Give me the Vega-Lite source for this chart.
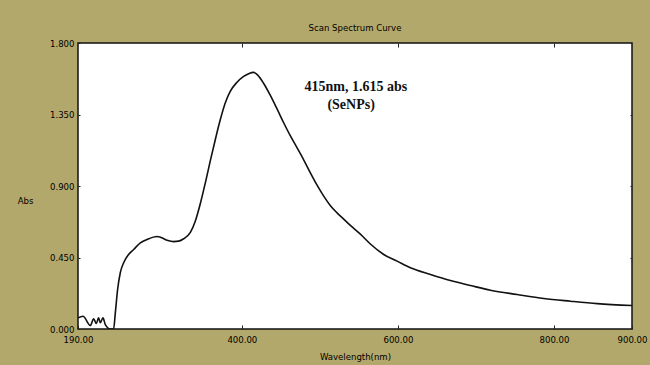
{
  "$schema": "https://vega.github.io/schema/vega-lite/v6.json",
  "width": 554,
  "height": 286,
  "autosize": {"type": "none"},
  "padding": {"left": 78, "top": 43, "right": 18, "bottom": 36},
  "background": "#b3a86b",
  "title": {
    "text": "Scan Spectrum Curve",
    "anchor": "middle",
    "font": "DejaVu Sans Condensed, Liberation Sans Narrow, Liberation Sans, sans-serif",
    "fontSize": 9.5,
    "fontWeight": "normal",
    "color": "#000",
    "offset": 6
  },
  "config": {
    "view": {"fill": "white", "stroke": "#111", "strokeWidth": 1.5},
    "axis": {
      "grid": false,
      "domain": false,
      "labelFont": "DejaVu Sans Condensed, Liberation Sans Narrow, Liberation Sans, sans-serif",
      "titleFont": "DejaVu Sans Condensed, Liberation Sans Narrow, Liberation Sans, sans-serif",
      "labelColor": "#000",
      "titleColor": "#000",
      "tickColor": "#222",
      "labelFontSize": 9.5,
      "titleFontSize": 9.5,
      "titleFontWeight": "normal"
    }
  },
  "datasets": {
    "spectrum": [
      {"wl": 190, "abs": 0.07},
      {"wl": 196.4, "abs": 0.08},
      {"wl": 205.8, "abs": 0.022},
      {"wl": 210, "abs": 0.064},
      {"wl": 213.5, "abs": 0.035},
      {"wl": 216.4, "abs": 0.07},
      {"wl": 218.6, "abs": 0.039},
      {"wl": 222, "abs": 0.07},
      {"wl": 225, "abs": 0.028},
      {"wl": 231.4, "abs": 0.0},
      {"wl": 235.6, "abs": 0.0},
      {"wl": 237.8, "abs": 0.1},
      {"wl": 240.8, "abs": 0.25},
      {"wl": 244.2, "abs": 0.354},
      {"wl": 248.5, "abs": 0.417},
      {"wl": 254.9, "abs": 0.469},
      {"wl": 261.3, "abs": 0.5},
      {"wl": 269.9, "abs": 0.542},
      {"wl": 278.5, "abs": 0.563},
      {"wl": 291.3, "abs": 0.582},
      {"wl": 295.5, "abs": 0.578},
      {"wl": 304.1, "abs": 0.559},
      {"wl": 312.6, "abs": 0.55},
      {"wl": 319, "abs": 0.553},
      {"wl": 325.4, "abs": 0.568},
      {"wl": 334, "abs": 0.608},
      {"wl": 340.4, "abs": 0.68},
      {"wl": 346.8, "abs": 0.79},
      {"wl": 353.2, "abs": 0.92},
      {"wl": 359.6, "abs": 1.06},
      {"wl": 366, "abs": 1.193},
      {"wl": 372.4, "abs": 1.318},
      {"wl": 378.8, "abs": 1.424},
      {"wl": 385.3, "abs": 1.497},
      {"wl": 393.8, "abs": 1.553},
      {"wl": 402.3, "abs": 1.59},
      {"wl": 408.7, "abs": 1.607},
      {"wl": 415, "abs": 1.615},
      {"wl": 420.3, "abs": 1.598},
      {"wl": 428, "abs": 1.545},
      {"wl": 436.5, "abs": 1.47},
      {"wl": 445.1, "abs": 1.385},
      {"wl": 453.6, "abs": 1.298},
      {"wl": 462.2, "abs": 1.215},
      {"wl": 470.8, "abs": 1.14},
      {"wl": 479.2, "abs": 1.065},
      {"wl": 487.8, "abs": 0.983},
      {"wl": 496.4, "abs": 0.905},
      {"wl": 504.9, "abs": 0.836},
      {"wl": 513.5, "abs": 0.776},
      {"wl": 522, "abs": 0.731},
      {"wl": 530.5, "abs": 0.692},
      {"wl": 539.1, "abs": 0.652},
      {"wl": 551.9, "abs": 0.597},
      {"wl": 564.7, "abs": 0.535},
      {"wl": 581.8, "abs": 0.469},
      {"wl": 599, "abs": 0.427},
      {"wl": 616, "abs": 0.385},
      {"wl": 641.7, "abs": 0.343},
      {"wl": 667.3, "abs": 0.305},
      {"wl": 692.9, "abs": 0.274},
      {"wl": 718.6, "abs": 0.244},
      {"wl": 752.8, "abs": 0.217},
      {"wl": 786.9, "abs": 0.192},
      {"wl": 821.2, "abs": 0.175},
      {"wl": 855.4, "abs": 0.16},
      {"wl": 900, "abs": 0.148}
    ],
    "notes": [
      {"wl": 546, "abs": 1.525, "label": "415nm, 1.615 abs"},
      {"wl": 540, "abs": 1.41, "label": "(SeNPs)"}
    ]
  },
  "layer": [
    {
      "data": {"name": "spectrum"},
      "mark": {"type": "line", "color": "#111", "strokeWidth": 1.6, "clip": true, "interpolate": "monotone"},
      "encoding": {
        "x": {
          "field": "wl", "type": "quantitative",
          "scale": {"domain": [190, 900], "nice": false, "zero": false},
          "axis": {
            "orient": "bottom",
            "values": [190, 400, 600, 800, 900],
            "format": ".2f",
            "tickSize": -4,
            "labelPadding": 9,
            "labelFlush": false,
            "title": "Wavelength(nm)",
            "titleY": 27,
            "titleBaseline": "middle"
          }
        },
        "y": {
          "field": "abs", "type": "quantitative",
          "scale": {"domain": [0, 1.8], "nice": false, "zero": false},
          "axis": {
            "orient": "left",
            "values": [0, 0.45, 0.9, 1.35, 1.8],
            "format": ".3f",
            "tickSize": -2,
            "labelPadding": 6,
            "title": "Abs",
            "titleAngle": 0,
            "titleX": -53,
            "titleY": 157,
            "titleAlign": "center",
            "titleBaseline": "middle"
          }
        }
      }
    },
    {
      "data": {"name": "notes"},
      "mark": {"type": "text", "font": "Liberation Serif, serif", "fontWeight": "bold", "fontSize": 14, "color": "#111", "align": "center", "baseline": "middle"},
      "encoding": {
        "x": {"field": "wl", "type": "quantitative",
          "axis": {"orient": "top", "values": [400, 600, 800], "tickSize": -4, "labels": false, "title": null}},
        "y": {"field": "abs", "type": "quantitative",
          "axis": {"orient": "right", "values": [0.45, 0.9, 1.35], "tickSize": -2, "labels": false, "title": null}},
        "text": {"field": "label"}
      }
    }
  ],
  "resolve": {"axis": {"x": "independent", "y": "independent"}}
}
